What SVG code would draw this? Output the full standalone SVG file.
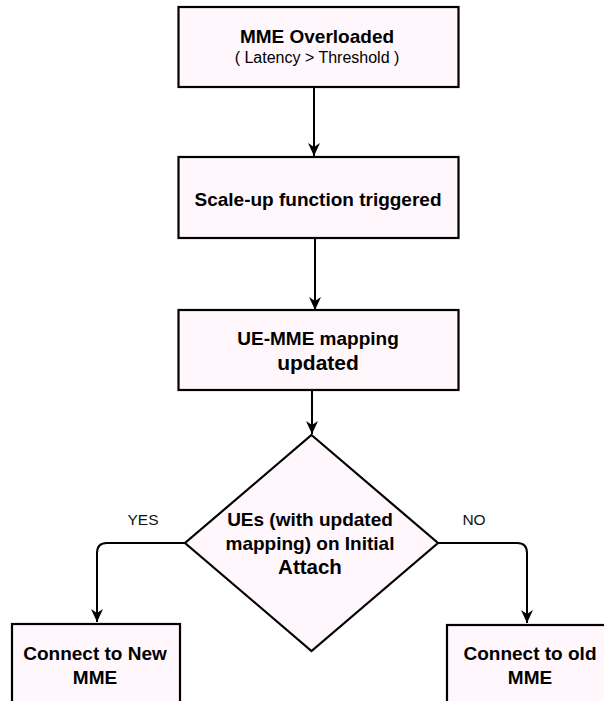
<svg xmlns="http://www.w3.org/2000/svg" width="604" height="701" viewBox="0 0 604 701">
<defs>
<style>
.node{fill:#fff7fc;stroke:#000;stroke-width:2.2}
.b{font-family:"Liberation Sans",Arial,sans-serif;font-weight:bold;fill:#000;text-anchor:middle}
.r{font-family:"Liberation Sans",Arial,sans-serif;fill:#000;text-anchor:middle}
.lbl{font-family:"Liberation Sans",Arial,sans-serif;fill:#111;text-anchor:middle;font-size:15.5px}
.edge{fill:none;stroke:#000;stroke-width:2;marker-end:url(#arr)}
</style>
<marker id="arr" markerUnits="userSpaceOnUse" markerWidth="14" markerHeight="14" viewBox="0 0 14 14" refX="13" refY="7" orient="auto">
<path d="M0,1 L13,7 L0,13 L4,7 Z" fill="#000"/>
</marker>
</defs>
<rect width="604" height="701" fill="#fff"/>
<g id="edges">
<path class="edge" d="M314,87 L314,156"/>
<path class="edge" d="M315,238 L315,310"/>
<path class="edge" d="M312,390 L312,434"/>
<path class="edge" d="M185,543 L107,543 Q97,543 97,553 L97,622"/>
<path class="edge" d="M438,543 L517,543 Q527,543 527,553 L527,623"/>
<text class="lbl" x="143" y="525">YES</text>
<text class="lbl" x="474" y="525">NO</text>
</g>
<g id="n1">
<rect class="node" x="178.5" y="7" width="280" height="80"/>
<text class="b" x="317" y="43" font-size="19">MME Overloaded</text>
<text class="r" x="317" y="63" font-size="16">( Latency &gt; Threshold )</text>
</g>
<g id="n2">
<rect class="node" x="178.5" y="157" width="280" height="81"/>
<text class="b" x="318" y="206" font-size="19">Scale-up function triggered</text>
</g>
<g id="n3">
<rect class="node" x="178.5" y="310" width="280" height="80"/>
<text class="b" x="318" y="345" font-size="19">UE-MME mapping</text>
<text class="b" x="318" y="370" font-size="21">updated</text>
</g>
<g id="n4">
<polygon class="node" points="311.5,435 438,543 311.5,651 185,543"/>
<text class="b" x="310" y="526" font-size="19">UEs (with updated</text>
<text class="b" x="310" y="550" font-size="19">mapping) on Initial</text>
<text class="b" x="310" y="574" font-size="20.5">Attach</text>
</g>
<g id="n5">
<rect class="node" x="12" y="624" width="168" height="90"/>
<text class="b" x="95" y="660" font-size="19">Connect to New</text>
<text class="b" x="95" y="684" font-size="19">MME</text>
</g>
<g id="n6">
<rect class="node" x="447" y="625" width="170" height="90"/>
<text class="b" x="530" y="660" font-size="19">Connect to old</text>
<text class="b" x="530" y="684" font-size="19">MME</text>
</g>
</svg>
